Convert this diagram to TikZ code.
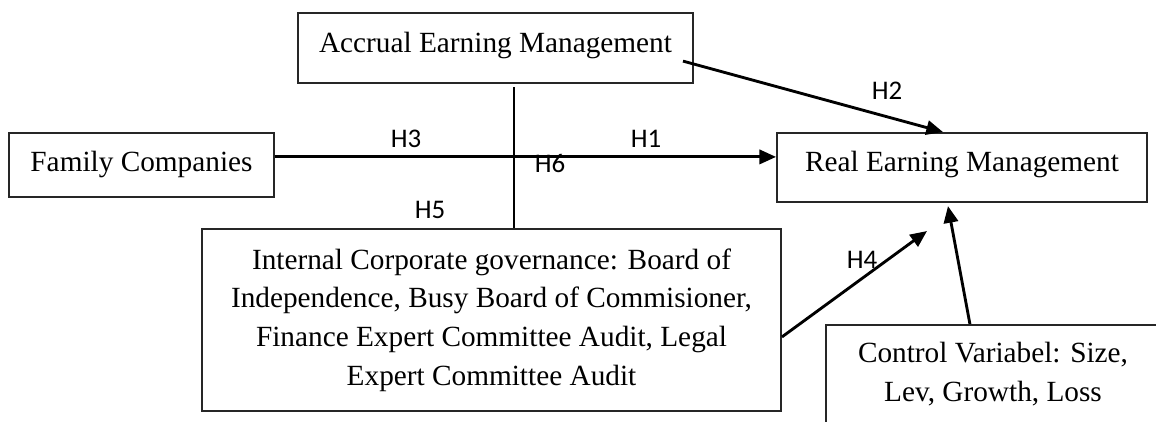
\documentclass[tikz,border=0pt]{standalone}
\usepackage{fontspec}
\setmainfont{Liberation Serif}
\newfontfamily\hypfont{Carlito}
\usetikzlibrary{arrows.meta}

\tikzset{
  box/.style={draw=black!85,line width=0.8pt,inner sep=0pt,
    font=\fontsize{12.3}{16.25}\selectfont},
  arr/.style={black,line width=1.2pt,-{Triangle[length=7pt,width=6pt]}},
  hyp/.style={anchor=base,font=\hypfont\fontsize{11.3}{13}\selectfont},
}

\begin{document}
\begin{tikzpicture}[x=0.42pt,y=-0.42pt]
\useasboundingbox (0,0) rectangle (1156,421);
\clip (0,0) rectangle (1156,421);
% variables
\node[box,minimum width=111.3pt,text height=16pt,text depth=10.9pt]
  (fam) at (141.5,165) {Family Companies};
\node[box,minimum width=165.9pt,text height=16.4pt,text depth=13pt]
  (acc) at (495.5,48) {Accrual Earning Management};
\node[box,minimum width=155.4pt,text height=16pt,text depth=13pt]
  (real) at (962,167.5) {Real Earning Management\hspace{5pt}};
\node[box,minimum width=243.2pt,minimum height=76.4pt,align=center]
  (icg) at (491.5,320) {Internal Corporate governance: Board of\\
  Independence, Busy Board of Commisioner,\\
  Finance Expert Committee Audit, Legal\\
  Expert Committee Audit};
\node[box,minimum width=140pt,minimum height=41.2pt,align=center]
  (ctrl) at (993,374) {Control Variabel: Size,\\Lev, Growth, Loss};
% paths
\coordinate (h1s) at ([yshift=3.4pt]fam.east);
\draw[arr] (h1s) -- (h1s -| real.west);
\coordinate (vtop) at ([xshift=7.8pt,yshift=-1.3pt]acc.south);
\draw[line width=0.7pt] (vtop) -- (vtop |- icg.north);
\draw[arr] ([xshift=-4.6pt,yshift=-5.5pt]acc.east) -- ([xshift=-8pt]real.north);
\coordinate (h4end) at (927,231);
\draw[arr] ([yshift=-7.1pt]icg.east) -- (h4end);
\draw[arr] ([xshift=-9.7pt]ctrl.north) -- ([xshift=-5.9pt,yshift=-1.3pt]real.south);
% hypotheses
\node[hyp] (h1) at (646,147) {H1};
\node[hyp] (h2) at (887,99) {H2};
\node[hyp] (h3) at (406,147) {H3};
\node[hyp] (h4) at (862,268) {H4};
\node[hyp] (h5) at (430,218) {H5};
\node[hyp] (h6) at (550,172) {H6};
\end{tikzpicture}
\end{document}
